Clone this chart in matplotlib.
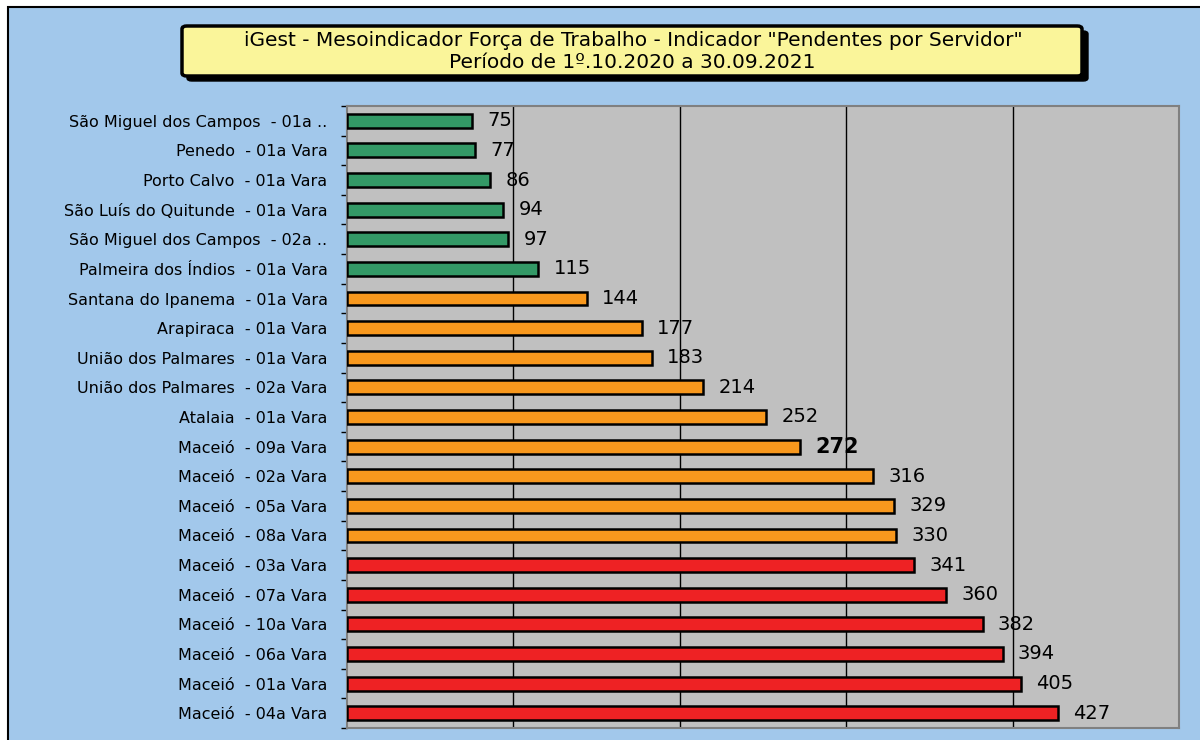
import matplotlib
matplotlib.use("Agg")
import matplotlib.pyplot as plt
from matplotlib.patches import Rectangle, FancyBboxPatch

categories = [
    "São Miguel dos Campos  - 01a ..",
    "Penedo  - 01a Vara",
    "Porto Calvo  - 01a Vara",
    "São Luís do Quitunde  - 01a Vara",
    "São Miguel dos Campos  - 02a ..",
    "Palmeira dos Índios  - 01a Vara",
    "Santana do Ipanema  - 01a Vara",
    "Arapiraca  - 01a Vara",
    "União dos Palmares  - 01a Vara",
    "União dos Palmares  - 02a Vara",
    "Atalaia  - 01a Vara",
    "Maceió  - 09a Vara",
    "Maceió  - 02a Vara",
    "Maceió  - 05a Vara",
    "Maceió  - 08a Vara",
    "Maceió  - 03a Vara",
    "Maceió  - 07a Vara",
    "Maceió  - 10a Vara",
    "Maceió  - 06a Vara",
    "Maceió  - 01a Vara",
    "Maceió  - 04a Vara",
]
values = [75, 77, 86, 94, 97, 115, 144, 177, 183, 214, 252, 272,
          316, 329, 330, 341, 360, 382, 394, 405, 427]
groups = ["g"] * 6 + ["o"] * 9 + ["r"] * 6
group_colors = {"g": "#339966", "o": "#F8981D", "r": "#EE2224"}
highlight = "Maceió  - 09a Vara"
title_lines = ["iGest - Mesoindicador Força de Trabalho - Indicador \"Pendentes por Servidor\"",
               "Período de 1º.10.2020 a 30.09.2021"]

W, H = 1200, 740
fig = plt.figure(figsize=(W / 100, H / 100), dpi=100)
fig.patch.set_facecolor("white")

def fx(px):
    return px / W

def fy(py):
    return 1 - py / H

# outer chart background with black border
bg = Rectangle((fx(8), fy(745)), fx(1300) - fx(8), fy(7) - fy(745),
               transform=fig.transFigure, facecolor="#A2C8EB",
               edgecolor="black", linewidth=1.5, zorder=-5)
fig.patches.append(bg)

ax = fig.add_axes([fx(347), fy(728), fx(1179) - fx(347), fy(106) - fy(728)])
ax.set_zorder(1)
ax.set_facecolor("#C0C0C0")
for s in ax.spines.values():
    s.set_color("#808080")
    s.set_linewidth(1.5)

ypos = list(range(len(values)))
colors = [group_colors[g] for g in groups]
ax.barh(ypos, values, height=0.47, color=colors, edgecolor="black",
        linewidth=1.8, zorder=3)

ax.set_xlim(0, 500)
ax.set_ylim(len(values) - 0.5, -0.5)
ax.set_xticks([100, 200, 300, 400])
ax.set_axisbelow(True)
ax.xaxis.grid(True, color="black", linewidth=1.0, zorder=1)
ax.tick_params(axis="x", length=0, labelbottom=False)

ax.set_yticks(ypos)
ax.set_yticklabels(categories, fontsize=11.5, family="DejaVu Sans")
ax.tick_params(axis="y", which="major", length=0, pad=14)
ax.set_yticks([i - 0.5 for i in range(len(values) + 1)], minor=True)
ax.tick_params(axis="y", which="minor", length=4.5, width=1, color="black",
               direction="out")

for i, (c, v) in enumerate(zip(categories, values)):
    bold = (c == highlight)
    ax.annotate(str(v), xy=(v, i), xytext=(11, 0), textcoords="offset points",
                va="center", ha="left",
                fontsize=15 if bold else 14,
                fontweight="bold" if bold else "normal",
                color="black", zorder=4)

# title box with shadow
shadow = FancyBboxPatch((fx(187), fy(81)), fx(1088) - fx(187), fy(31) - fy(81),
                        boxstyle="round,pad=0,rounding_size=0.004",
                        transform=fig.transFigure, facecolor="black",
                        edgecolor="black", linewidth=1, zorder=5)
box = FancyBboxPatch((fx(182), fy(76)), fx(1082) - fx(182), fy(26) - fy(76),
                     boxstyle="round,pad=0,rounding_size=0.004",
                     transform=fig.transFigure, facecolor="#FAF59A",
                     edgecolor="black", linewidth=2.5, zorder=6)
fig.patches.append(shadow)
fig.patches.append(box)
fig.text(fx(633), fy(41), title_lines[0], ha="center", va="center",
         fontsize=14.5, color="black", zorder=7)
fig.text(fx(632), fy(62), title_lines[1], ha="center", va="center",
         fontsize=14.5, color="black", zorder=7)

fig.savefig("out.png", dpi=100)
